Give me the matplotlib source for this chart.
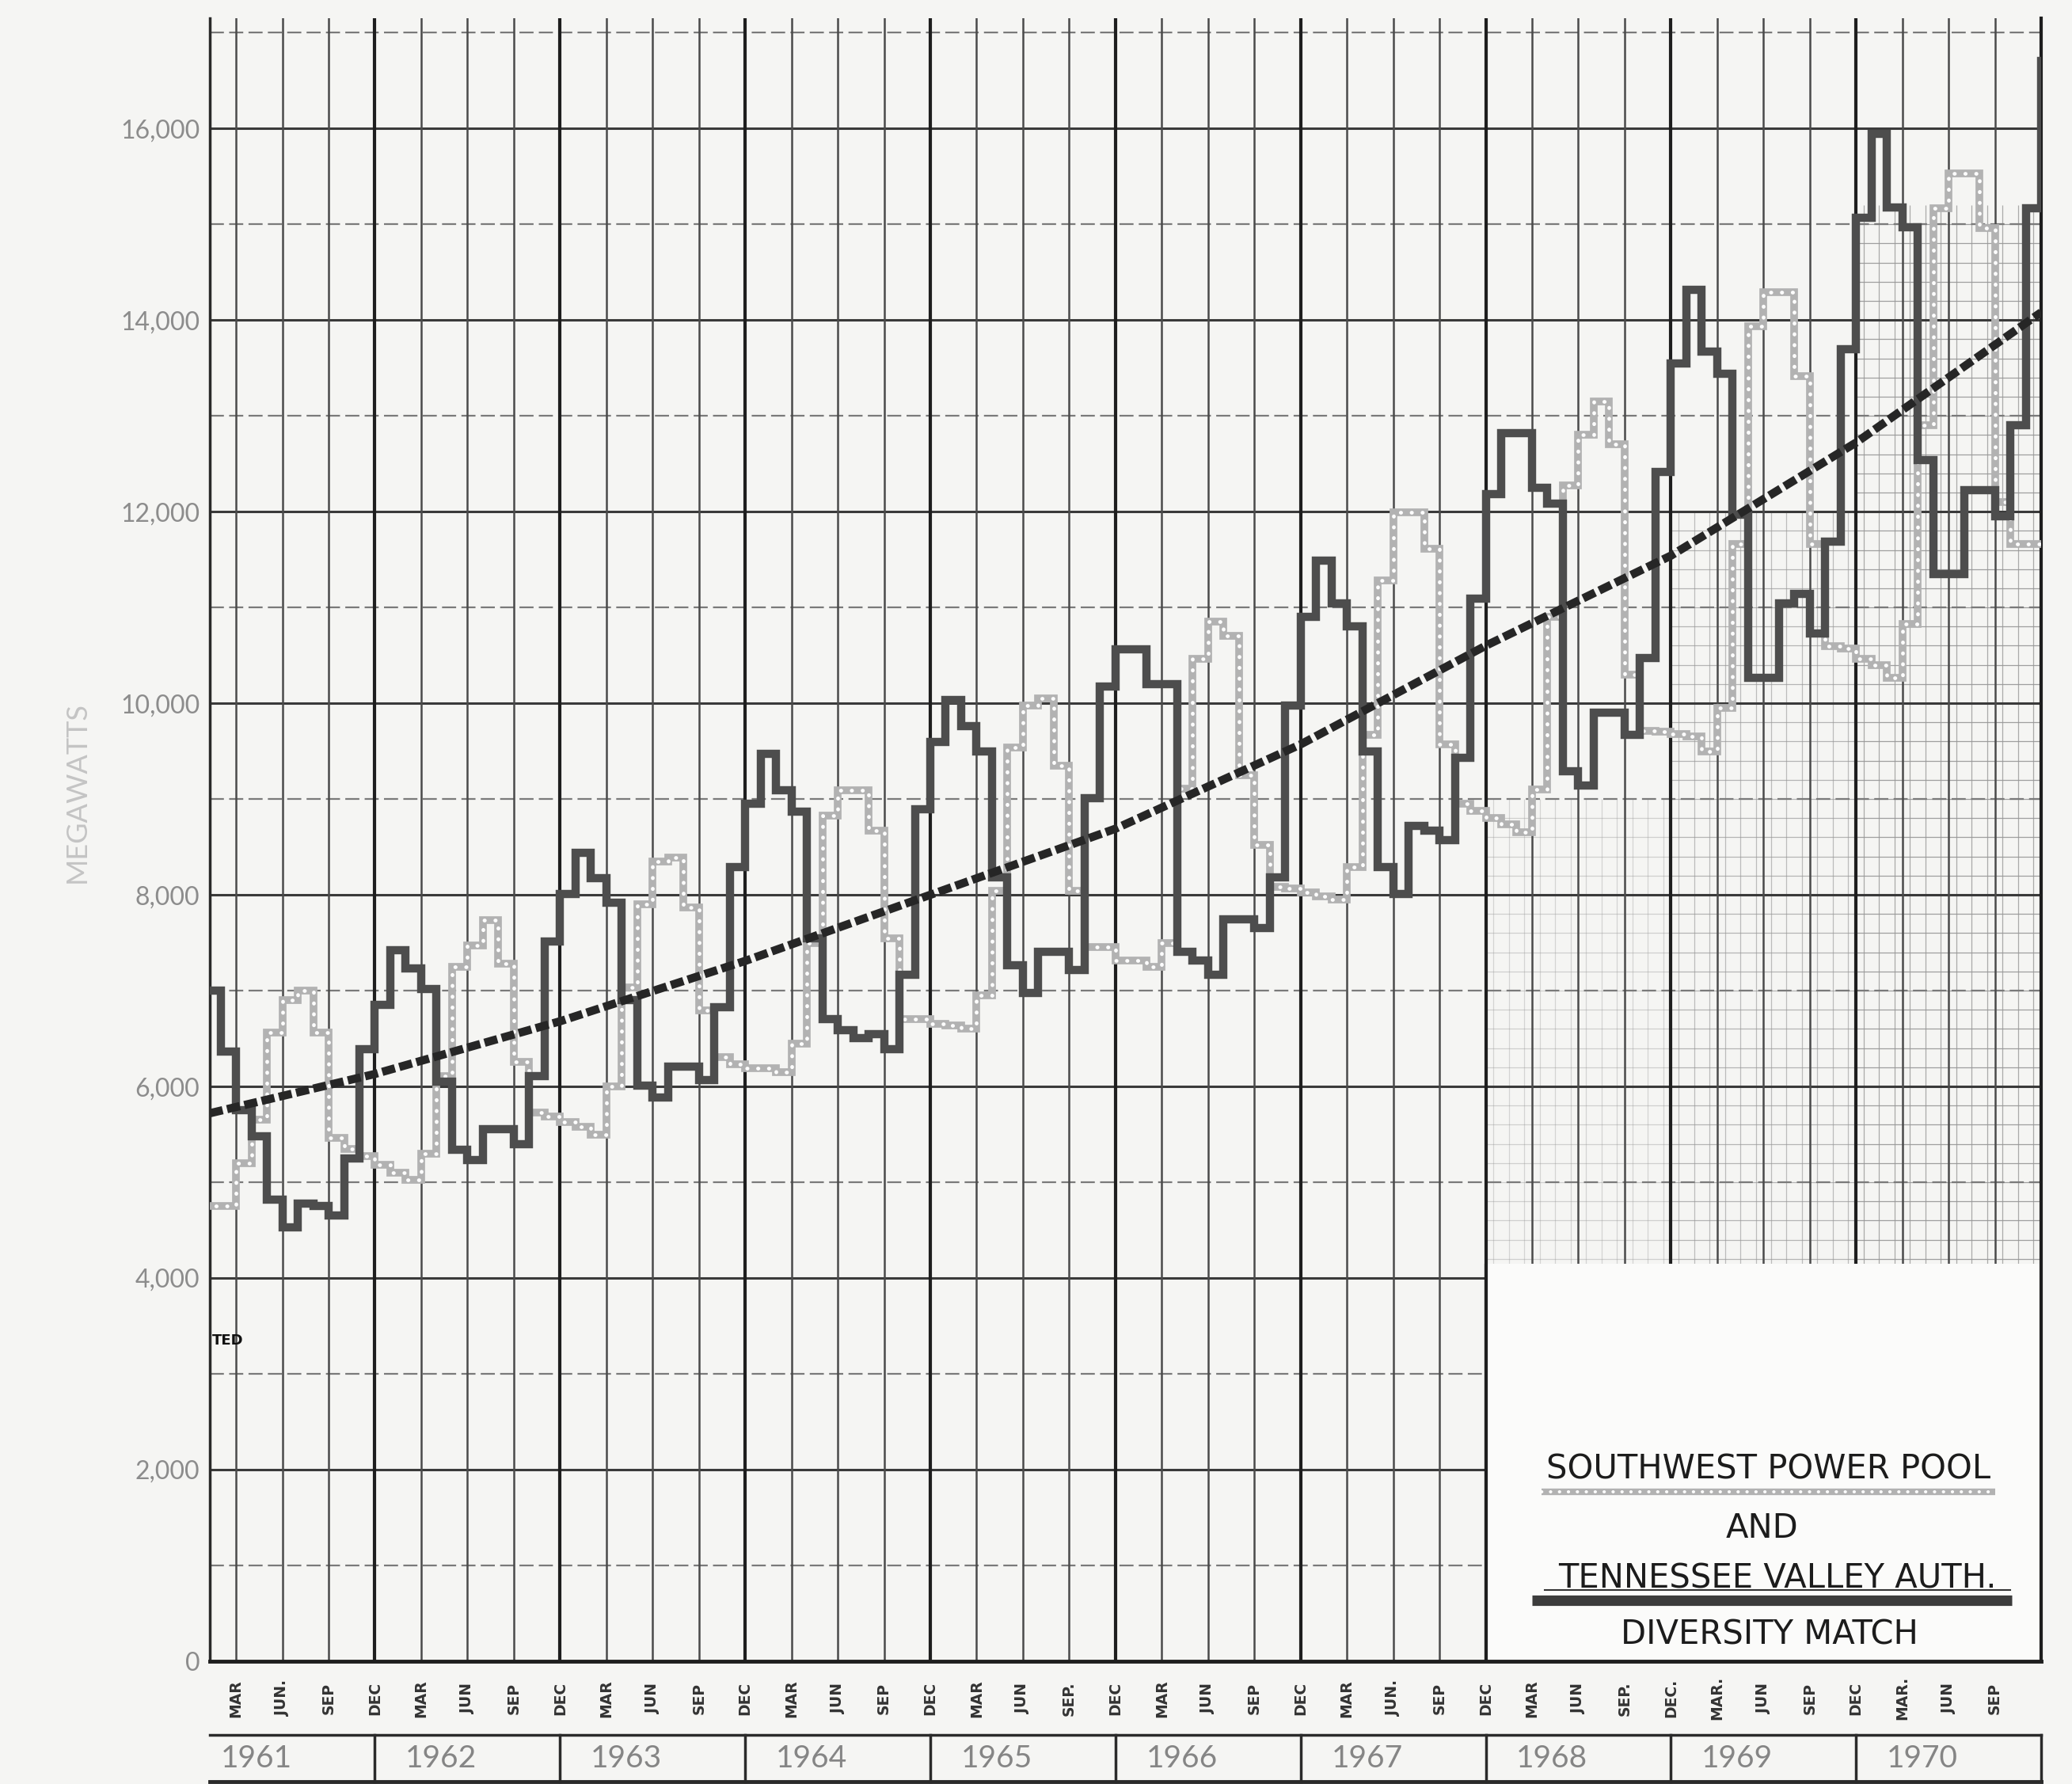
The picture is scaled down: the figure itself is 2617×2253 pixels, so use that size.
import numpy as np
import matplotlib
matplotlib.use("Agg")
import matplotlib.pyplot as plt
from matplotlib.patches import Rectangle

# ---------------- data ----------------
# month index: 0 = end of Dec 1960, 12 = Dec 1961, ... 120 = Dec 1970
month_edges = np.arange(1, 121)          # step start positions (1 .. 120)

tva = [7000, 6360, 5750, 5480, 4820, 4530, 4780, 4750, 4650, 5250, 6390, 6850,
       7425, 7235, 7015, 6050, 5340, 5230, 5550, 5550, 5400, 6106, 7511, 8010,
       8440, 8170, 7920, 6900, 6006, 5886, 6206, 6206, 6066, 6828, 8290, 8951,
       9472, 9091, 8871, 7550, 6707, 6587, 6507, 6550, 6387, 7168, 8891, 9592,
       10030, 9760, 9493, 8180, 7262, 6972, 7408, 7408, 7214, 9008, 10172, 10560,
       10560, 10196, 10196, 7408, 7311, 7165, 7747, 7747, 7650, 8184, 9978, 10900,
       11490, 11042, 10804, 9500, 8290, 8005, 8717, 8669, 8574, 9428, 11089, 12180,
       12821, 12821, 12251, 12085, 9286, 9144, 9903, 9903, 9666, 10472, 12418, 13550,
       14318, 13673, 13440, 11968, 10263, 10263, 11038, 11141, 10728, 11684, 13699, 15067,
       15946, 15171, 14964, 12536, 11348, 11348, 12226, 12226, 11950, 12900, 15170,
       16700]

swpp = [4750, 4750, 5200, 5650, 6560, 6900, 7000, 6560, 5460, 5350, 5270, 5180,
        5100, 5025, 5300, 6106, 7245, 7473, 7738, 7283, 6258, 5727, 5689, 5632,
        5575, 5500, 6000, 7030, 7900, 8350, 8390, 7870, 6790, 6310, 6230, 6190,
        6190, 6150, 6450, 7500, 8830, 9091, 9091, 8670, 7550, 6707, 6700, 6650,
        6640, 6600, 6950, 8040, 9542, 9978, 10051, 9348, 8040, 7456, 7456, 7311,
        7311, 7250, 7500, 9105, 10463, 10850, 10700, 9251, 8523, 8087, 8063, 8029,
        7980, 7950, 8290, 9666, 11279, 11990, 11990, 11611, 9571, 8950, 8880, 8800,
        8740, 8650, 9096, 10900, 12275, 12800, 13150, 12700, 10300, 9713, 9700, 9680,
        9650, 9500, 9950, 11658, 13931, 14293, 14293, 13414, 11658, 10599, 10573, 10465,
        10400, 10263, 10830, 12900, 15170, 15530, 15530, 14960, 12100, 11660, 11660,
        11660]

trend_x = [1.3, 12, 24, 36, 48, 60, 72, 84, 96, 108, 120]
trend_v = [5720, 6130, 6680, 7310, 8000, 8690, 9570, 10600, 11540, 12720, 14080]

years = ["1961", "1962", "1963", "1964", "1965", "1966", "1967", "1968", "1969", "1970"]
month_labels = ["MAR", "JUN.", "SEP", "DEC",
                "MAR", "JUN", "SEP", "DEC",
                "MAR", "JUN", "SEP", "DEC",
                "MAR", "JUN", "SEP", "DEC",
                "MAR", "JUN", "SEP.", "DEC",
                "MAR", "JUN", "SEP", "DEC",
                "MAR", "JUN.", "SEP", "DEC",
                "MAR", "JUN", "SEP.", "DEC.",
                "MAR.", "JUN", "SEP", "DEC",
                "MAR.", "JUN", "SEP"]
month_label_pos = np.arange(3, 118, 3)

y_ticks = list(range(0, 16001, 2000))
y_tick_labels = ["0", "2,000", "4,000", "6,000", "8,000", "10,000", "12,000", "14,000", "16,000"]

legend_lines = ["SOUTHWEST POWER POOL", "AND", "TENNESSEE VALLEY AUTH.", "DIVERSITY MATCH"]

# ---------------- figure ----------------
BG = "#f5f5f3"
fig = plt.figure(figsize=(26.17, 22.53), dpi=100, facecolor=BG)
ax = fig.add_axes([0.10126, 0.06880, 0.88384, 0.92099])
ax.set_facecolor(BG)
XMIN, XMAX, YMAX = 1.3, 120, 17150
ax.set_xlim(XMIN, XMAX)
ax.set_ylim(0, YMAX)

# dense graph-paper texture on the right
dense = [(84, 96, 4150, 9000, 0.35), (96, 108, 4150, 12000, 0.6), (108, 120, 4150, 15200, 0.8)]
for k0, k1, v0, v1, a in dense:
    ax.hlines(np.arange(v0 + 50, v1, 200), k0, k1, color="#8a8a8a", lw=0.9, alpha=a, zorder=0.5)
    ax.vlines(np.arange(k0 + 0.5, k1, 1.0), v0, v1, color="#979797", lw=0.9, alpha=a, zorder=0.5)

# grid
for v in range(1000, 17001, 2000):
    ax.axhline(v, color="#7a7a7a", lw=1.6, dashes=(8, 3), zorder=1)
for v in range(2000, 16001, 2000):
    ax.axhline(v, color="#3a3a3a", lw=2.2, zorder=1)
for k in range(3, 120, 3):
    if k % 12 == 0:
        ax.axvline(k, color="#1e1e1e", lw=3.0, zorder=1)
    else:
        ax.axvline(k, color="#4a4a4a", lw=1.8, zorder=1)

# legend box (pasted label)
LB_LEFT, LB_TOP = 84, 4150
ax.add_patch(Rectangle((LB_LEFT, 0), XMAX - LB_LEFT, LB_TOP, facecolor="#fbfbfa",
                       edgecolor="none", zorder=1.5))
ax.vlines(LB_LEFT, 0, LB_TOP, color="#1e1e1e", lw=3.0, zorder=1.6)

# data series
ax.step(month_edges, swpp, where="post", color="#b2b2b2", lw=7.0, zorder=3,
        solid_joinstyle="miter")
ax.step(month_edges, swpp, where="post", color="white", lw=3.4, zorder=3.1,
        linestyle=(0, (0.1, 2.8)), dash_capstyle="round")
ax.step(month_edges, tva, where="post", color="#4d4d4d", lw=7.5, zorder=4,
        solid_joinstyle="miter")
ax.plot(trend_x, trend_v, color="#262626", lw=7.5, linestyle=(0, (1.6, 0.55)),
        dash_capstyle="butt", zorder=5)

# legend
lx0, lx1 = 87.0, 118.0
ax.text(102.3, 2008, legend_lines[0], ha="center", va="center", fontsize=30, color="#1c1c1c", zorder=6)
ax.plot([lx0 + 0.6, lx1 - 1.0], [1768, 1768], color="#b2b2b2", lw=6, zorder=6, solid_capstyle="butt")
ax.plot([lx0 + 0.6, lx1 - 1.0], [1768, 1768], color="white", lw=2.8, zorder=6.1,
        linestyle=(0, (0.1, 2.8)), dash_capstyle="round")
ax.text(101.9, 1387, legend_lines[1], ha="center", va="center", fontsize=30, color="#1c1c1c", zorder=6)
ax.text(102.9, 867, legend_lines[2], ha="center", va="center", fontsize=30, color="#1c1c1c", zorder=6)
ax.plot([lx0 + 0.8, lx1], [742, 742], color="#333", lw=1.5, zorder=6)
ax.plot([lx0, lx1 + 0.1], [635, 635], color="#3c3c3c", lw=9.5, zorder=6, solid_capstyle="butt")
ax.text(102.4, 280, legend_lines[3], ha="center", va="center", fontsize=30, color="#1c1c1c", zorder=6)

# small fragment text at left
ax.text(1.45, 3350, "TED", ha="left", va="center", fontsize=13, fontweight="bold", color="#111", zorder=6)

# spines / ticks
ax.spines["top"].set_visible(False)
ax.spines["left"].set_linewidth(2.5)
ax.spines["left"].set_color("#2a2a2a")
ax.spines["right"].set_linewidth(3.0)
ax.spines["right"].set_color("#1e1e1e")
ax.spines["bottom"].set_linewidth(3.5)
ax.spines["bottom"].set_color("#1e1e1e")
ax.set_xticks([])
ax.set_yticks(y_ticks)
ax.set_yticklabels(y_tick_labels, family="Lato")
ax.tick_params(axis="y", length=0, pad=9, labelsize=23, labelcolor="#8c8c8c")

# month labels
tr = ax.get_xaxis_transform()
for pos, lab in zip(month_label_pos, month_labels):
    ax.text(pos, -0.0226, lab, transform=tr, rotation=90, ha="center", va="center",
            fontsize=13.5, fontweight="bold", color="#333", clip_on=False)

# year band
y_top, y_bot = -0.0448, -0.0733
ax.plot([XMIN, XMAX], [y_top, y_top], transform=tr, color="#2a2a2a", lw=2.5, clip_on=False)
ax.plot([XMIN, XMAX], [y_bot, y_bot], transform=tr, color="#2a2a2a", lw=3.5, clip_on=False)
for i, yr in enumerate(years):
    ax.text(12 * i + 4.3, -0.0595, yr, transform=tr, ha="center", va="center",
            fontsize=28, color="#858585", family="Lato", clip_on=False)
    xe = 12 * (i + 1)
    ax.plot([xe, xe], [y_top, y_bot], transform=tr, color="#2a2a2a", lw=2.5, clip_on=False)

fig.text(0.037, 0.556, "MEGAWATTS", rotation=90, ha="center", va="center",
         fontsize=26, color="#c4c4c4", family="Lato")

fig.savefig("out.png", dpi=100, facecolor=BG)
